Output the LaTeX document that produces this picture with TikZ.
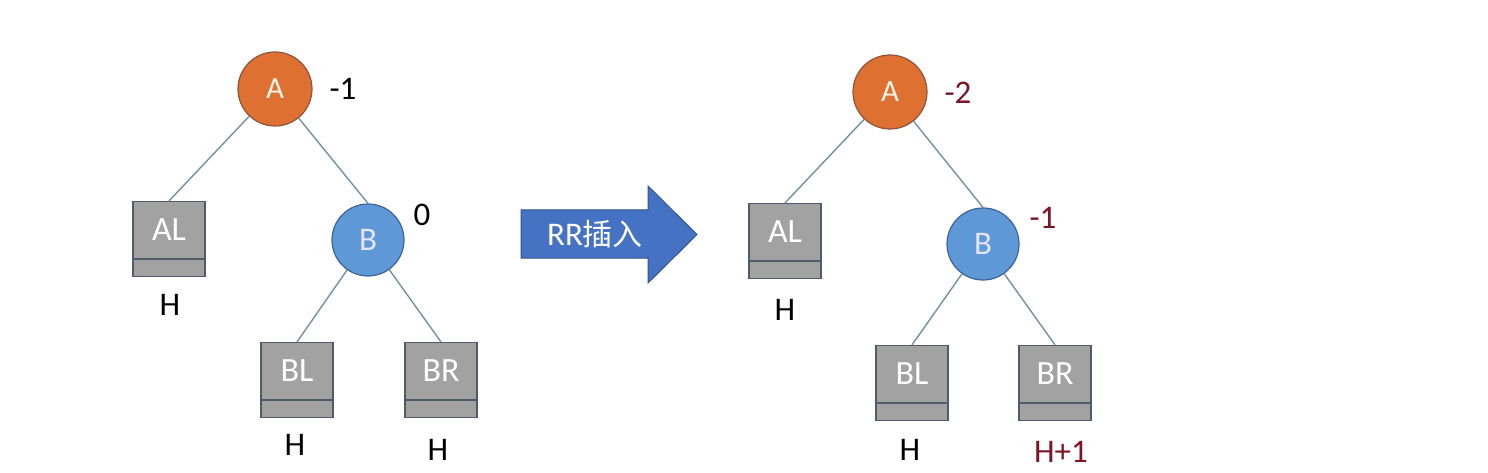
\documentclass[tikz,border=0pt]{standalone}
\usepackage{fontspec}
\setmainfont{Carlito}
\newfontfamily\cjk{Noto Sans CJK SC}
\definecolor{aorange}{RGB}{222,112,50}
\definecolor{aorangeb}{RGB}{140,85,60}
\definecolor{bblue}{RGB}{94,152,214}
\definecolor{bblueb}{RGB}{60,100,150}
\definecolor{boxgray}{RGB}{162,162,162}
\definecolor{boxb}{RGB}{80,92,105}
\definecolor{edgec}{RGB}{115,145,160}
\definecolor{arrowf}{RGB}{70,114,196}
\definecolor{arrowb}{RGB}{50,82,140}
\definecolor{dred}{RGB}{125,20,40}
\tikzset{
  anode/.style={circle,draw=aorangeb,fill=aorange,line width=1.2pt,minimum size=74pt,inner sep=0pt,text=white!92!orange,font=\fontsize{31}{36}\selectfont},
  bnode/.style={circle,draw=bblueb,fill=bblue,line width=1.2pt,minimum size=72pt,inner sep=0pt,text=white!90!blue,font=\fontsize{33}{38}\selectfont},
  sbox/.style={rectangle,draw=boxb,fill=boxgray,line width=1.2pt,minimum width=72pt,minimum height=75pt,inner sep=0pt},
  boxtext/.style={text=white,font=\fontsize{34}{40}\selectfont,inner sep=0pt},
  divider/.style={draw=boxb,line width=1.8pt},
  edge/.style={draw=edgec,line width=1.4pt},
  lab/.style={font=\fontsize{33}{39}\selectfont,inner sep=0pt,text=black},
  rlab/.style={font=\fontsize{33}{39}\selectfont,inner sep=0pt,text=dred},
  arrowshape/.style={fill=arrowf,draw=arrowb,line width=1pt,line join=miter},
  arrowtext/.style={text=white,font=\fontsize{33}{38}\selectfont,inner sep=0pt}
}
\begin{document}
\begin{tikzpicture}[x=1pt,y=-1pt]
\useasboundingbox (0,0) rectangle (1488,473);
% ---------- left tree ----------
\node[anode] (A1) at (275,89) {A};
\node[lab] (A1l) at (343,89) {-1};
\node[sbox] (AL1) at (169,239) {};
\node[boxtext] (AL1t) at ([yshift=9pt]AL1.center) {AL};
\draw[divider] ([yshift=18pt]AL1.south west) -- ([yshift=18pt]AL1.south east);
\node[lab] (AL1h) at (170,305) {H};
\node[bnode] (B1) at (368,240) {B};
\node[lab] (B1l) at (422,215) {0};
\node[sbox] (BL1) at (297,380) {};
\node[boxtext] (BL1t) at ([yshift=9pt]BL1.center) {BL};
\draw[divider] ([yshift=18pt]BL1.south west) -- ([yshift=18pt]BL1.south east);
\node[lab] (BL1h) at (295,445) {H};
\node[sbox] (BR1) at (441,380) {};
\node[boxtext] (BR1t) at ([yshift=9pt]BR1.center) {BR};
\draw[divider] ([yshift=18pt]BR1.south west) -- ([yshift=18pt]BR1.south east);
\node[lab] (BR1h) at (438,450) {H};
\draw[edge] (A1) -- (AL1.north);
\draw[edge] (A1) -- (B1.north);
\draw[edge] (B1) -- (BL1.north);
\draw[edge] (B1) -- (BR1.north);
% ---------- arrow ----------
\draw[arrowshape] (521,210) -- (648,210) -- (648,186) -- (697,234.5) -- (648,283) -- (648,258) -- (521,258) -- cycle;
\node[arrowtext] (rr) at (595,234) {RR{\cjk\fontsize{30}{36}\selectfont 插入}};
% ---------- right tree ----------
\node[anode] (A2) at (890,92) {A};
\node[rlab] (A2l) at (958,93) {-2};
\node[sbox] (AL2) at (785,241) {};
\node[boxtext] (AL2t) at ([yshift=9pt]AL2.center) {AL};
\draw[divider] ([yshift=18pt]AL2.south west) -- ([yshift=18pt]AL2.south east);
\node[lab] (AL2h) at (785,310) {H};
\node[bnode] (B2) at (983,244) {B};
\node[rlab] (B2l) at (1043,218) {-1};
\node[sbox] (BL2) at (912,383) {};
\node[boxtext] (BL2t) at ([yshift=9pt]BL2.center) {BL};
\draw[divider] ([yshift=18pt]BL2.south west) -- ([yshift=18pt]BL2.south east);
\node[lab] (BL2h) at (910,450) {H};
\node[sbox] (BR2) at (1055,383) {};
\node[boxtext] (BR2t) at ([yshift=9pt]BR2.center) {BR};
\draw[divider] ([yshift=18pt]BR2.south west) -- ([yshift=18pt]BR2.south east);
\node[rlab] (BR2h) at (1061,452) {H+1};
\draw[edge] (A2) -- (AL2.north);
\draw[edge] (A2) -- (B2.north);
\draw[edge] (B2) -- (BL2.north);
\draw[edge] (B2) -- (BR2.north);
\end{tikzpicture}
\end{document}
